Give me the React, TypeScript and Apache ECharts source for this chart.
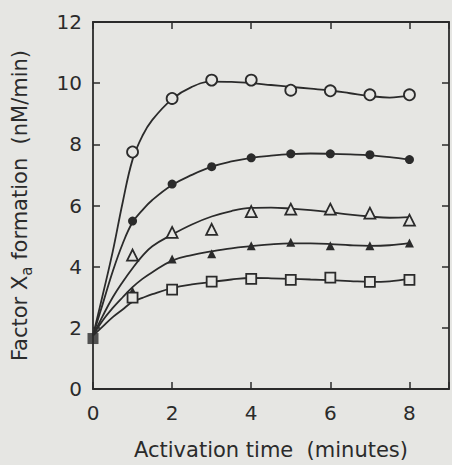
import React, { useEffect, useRef } from "react";
import * as echarts from "echarts";

// Measured points (activation time in minutes)
const times = [1, 2, 3, 4, 5, 6, 7, 8];
const openCircles = [7.75, 9.5, 10.1, 10.1, 9.77, 9.75, 9.62, 9.62];
const filledCircles = [5.49, 6.7, 7.27, 7.56, 7.69, 7.69, 7.66, 7.5];
const openTriangles = [4.38, 5.12, 5.22, 5.8, 5.88, 5.88, 5.75, 5.52];
const filledTriangles = [3.2, 4.25, 4.42, 4.68, 4.8, 4.68, 4.68, 4.77];
const openSquares = [2.99, 3.25, 3.51, 3.6, 3.57, 3.64, 3.5, 3.57];
const startPoint = [0, 1.65];

// Fitted curves
const fitX = [0, 0.25, 0.5, 0.75, 1, 1.25, 1.5, 2, 2.5, 3, 3.5, 4, 4.5, 5, 5.5, 6, 6.5, 7, 7.5, 8];
const fitOpenCircles = [1.75, 3.1, 4.5, 6.1, 7.5, 8.28, 8.8, 9.48, 9.88, 10.05, 10.04, 10.0, 9.94, 9.88, 9.82, 9.76, 9.67, 9.58, 9.53, 9.6];
const fitFilledCircles = [1.75, 2.8, 3.85, 4.75, 5.45, 5.85, 6.18, 6.67, 7.0, 7.27, 7.44, 7.56, 7.63, 7.68, 7.7, 7.69, 7.67, 7.64, 7.58, 7.5];
const fitOpenTriangles = [1.75, 2.4, 3.0, 3.5, 3.95, 4.35, 4.67, 5.05, 5.38, 5.64, 5.82, 5.92, 5.93, 5.9, 5.85, 5.78, 5.7, 5.64, 5.6, 5.62];
const fitFilledTriangles = [1.75, 2.25, 2.65, 3.0, 3.33, 3.6, 3.82, 4.2, 4.38, 4.5, 4.6, 4.67, 4.73, 4.76, 4.76, 4.74, 4.7, 4.68, 4.7, 4.77];
const fitOpenSquares = [1.75, 2.05, 2.35, 2.6, 2.85, 2.98, 3.1, 3.3, 3.42, 3.5, 3.58, 3.63, 3.62, 3.6, 3.58, 3.56, 3.53, 3.5, 3.52, 3.6];

const INK = "#2b2b2b";
const BG = "#e6e6e3";
const FONT = "DejaVu Sans";

const pairs = (xs: number[], ys: number[]) => xs.map((x, i) => [x, ys[i]]);

export default function App() {
  const ref = useRef<HTMLDivElement>(null);
  useEffect(() => {
    if (!ref.current) return;
    const chart = echarts.init(ref.current, null, { renderer: "svg" });
    const lineSeries = (d: number[]) => ({
      type: "line",
      data: pairs(fitX, d),
      smooth: 0.4,
      showSymbol: false,
      symbol: "none",
      lineStyle: { color: INK, width: 1.8 },
      z: 2,
    });
    const scat = (d: number[], symbol: string, size: number, filled: boolean) => ({
      type: "scatter",
      data: pairs(times, d),
      symbol,
      symbolSize: size,
      itemStyle: {
        color: filled ? INK : BG,
        borderColor: INK,
        borderWidth: filled ? 0 : 1.8,
        opacity: 1,
      },
      z: 3,
    });
    const axisCommon = () => ({
      axisLine: { show: true, onZero: false, lineStyle: { color: INK, width: 1.8 } },
      axisTick: { show: true, inside: true, length: 7, lineStyle: { color: INK, width: 1.5 } },
      splitLine: { show: false },
    });
    chart.setOption({
      animation: false,
      backgroundColor: BG,
      grid: { left: 93, top: 22, right: 1, bottom: 73, show: false },
      xAxis: [
        {
          type: "value",
          min: 0,
          max: 9,
          interval: 2,
          ...axisCommon(),
          axisLabel: {
            color: INK,
            fontSize: 20,
            fontFamily: FONT,
            margin: 14,
            formatter: (v: number) => (v === 9 ? "" : String(v)),
          },
          name: "Activation time  (minutes)",
          nameLocation: "middle",
          nameGap: 50,
          nameTextStyle: { color: INK, fontSize: 21, fontFamily: FONT },
        },
        {
          type: "value",
          position: "top",
          min: 0,
          max: 9,
          interval: 2,
          ...axisCommon(),
          axisLabel: { show: false },
        },
      ],
      yAxis: [
        {
          type: "value",
          min: 0,
          max: 12,
          interval: 2,
          ...axisCommon(),
          axisLabel: { color: INK, fontSize: 20, fontFamily: FONT, margin: 11 },
          name: "{n|Factor X}{s|a}{n| formation  (nM/min)}",
          nameLocation: "middle",
          nameGap: 59,
          nameTextStyle: {
            color: INK,
            fontFamily: FONT,
            rich: {
              n: { fontSize: 21, fontFamily: FONT, color: INK, lineHeight: 28, verticalAlign: "middle" },
              s: { fontSize: 15, fontFamily: FONT, color: INK, lineHeight: 28, verticalAlign: "bottom", padding: [9, 0, 0, 0] },
            },
          },
        },
        {
          type: "value",
          position: "right",
          min: 0,
          max: 12,
          interval: 2,
          ...axisCommon(),
          axisLabel: { show: false },
        },
      ],
      series: [
        lineSeries(fitOpenCircles),
        lineSeries(fitFilledCircles),
        lineSeries(fitOpenTriangles),
        lineSeries(fitFilledTriangles),
        lineSeries(fitOpenSquares),
        scat(openCircles, "circle", 11, false),
        scat(filledCircles, "circle", 9, true),
        scat(openTriangles, "triangle", 11, false),
        scat(filledTriangles, "triangle", 9, true),
        scat(openSquares, "rect", 10, false),
        {
          type: "scatter",
          data: [startPoint],
          symbol: "rect",
          symbolSize: 11,
          itemStyle: { color: INK },
          z: 4,
        },
      ],
    });
    return () => chart.dispose();
  }, []);
  return (
    <div
      ref={ref}
      style={{ width: 452, height: 465, position: "absolute", left: 0, top: 0, background: BG }}
    />
  );
}
